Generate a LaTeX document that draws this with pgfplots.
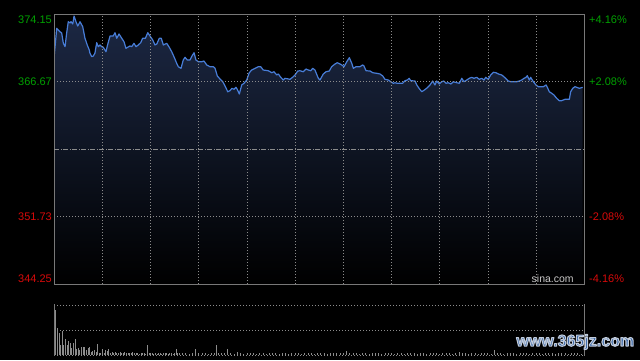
\documentclass[border=0pt]{standalone}
\usepackage{fontspec}
\setmainfont{Liberation Sans}
\usepackage{pgfplots}
\pgfplotsset{compat=1.18}
\usepackage{pgfplotstable}
\definecolor{upg}{RGB}{0,160,0}
\definecolor{dnr}{RGB}{215,10,10}
\definecolor{lineb}{RGB}{72,125,215}
\definecolor{gridc}{RGB}{140,140,140}
\definecolor{framec}{RGB}{120,120,120}
\definecolor{filltop}{RGB}{28,40,68}
\definecolor{volc}{RGB}{140,140,140}
\definecolor{wm}{RGB}{45,95,165}

\pgfplotstableread{
x y
0 369.66
1.5 372.62
3.5 372.24
4.6 372.10
5.6 370.99
6.7 370.58
7.7 372.10
8.7 373.35
9.8 373.21
10.4 373.35
11.5 373.10
12.3 373.98
13.5 373.35
14.6 372.87
16.0 373.35
17.7 372.80
19.1 371.51
20.5 370.77
21.8 370.21
22.2 369.85
23.3 369.47
24.3 369.55
25.3 369.85
26.4 371.02
27.4 370.58
28.5 370.77
29.5 370.58
30.5 370.51
32.2 370.02
33.0 370.66
34.7 371.76
36.7 371.76
37.8 372.13
38.9 371.51
40.3 371.99
42.0 371.51
43.4 371.13
44.6 370.40
47.1 370.66
48.2 370.58
49.6 370.95
50.9 370.58
52.3 370.77
53.8 371.02
55.0 371.51
56.7 371.51
58.2 372.13
59.6 371.76
61.3 371.32
62.7 370.77
63.8 370.88
65.4 371.51
66.6 371.51
67.9 370.77
70.0 370.95
71.6 370.51
73.1 370.02
74.5 369.47
76.2 368.74
77.2 368.36
78.9 368.18
80.3 369.10
81.4 369.40
82.8 369.10
84.5 369.10
85.5 369.47
87.0 369.91
88.2 369.10
89.7 368.91
91.8 368.91
93.2 368.99
94.9 368.55
96.9 368.36
99.0 368.36
100.1 368.18
101.5 367.33
103.2 366.99
104.9 366.69
106.3 366.22
108.0 365.58
109.4 365.70
110.6 365.96
111.9 365.85
113.1 366.07
113.9 365.85
115.2 365.33
116.7 366.33
118.1 366.52
119.8 366.88
121.4 367.69
122.9 367.99
125.0 368.18
127.0 368.36
128.5 368.36
130.1 367.99
133.3 367.91
135.4 367.69
136.8 367.80
138.5 367.44
139.5 367.55
141.0 367.18
142.6 366.88
143.6 367.07
146.8 366.96
148.8 367.25
149.9 367.44
151.6 367.88
153.0 367.91
155.0 367.80
156.7 368.10
158.2 367.99
159.7 367.91
160.9 368.18
162.3 367.99
164.4 367.07
165.4 366.88
167.5 367.55
169.2 367.80
171.2 367.88
172.7 368.36
174.8 368.66
176.2 368.80
177.9 368.66
179.0 368.55
180.4 368.36
182.1 368.91
183.7 369.36
185.2 368.74
186.2 368.18
187.9 368.36
190.3 368.36
192.0 368.55
192.8 368.44
194.1 367.91
196.6 367.88
198.3 367.69
200.7 367.63
202.8 367.55
204.5 367.33
205.9 366.96
208.0 366.88
209.5 366.69
211.1 366.52
212.1 366.58
213.6 366.52
216.9 366.52
218.4 366.81
219.8 366.88
220.9 367.07
221.9 366.81
224.6 366.77
225.7 366.33
227.1 365.96
228.8 365.58
230.4 365.77
232.3 366.03
233.9 366.33
235.6 366.77
237.0 366.33
238.1 366.77
239.7 366.44
241.2 366.69
242.6 366.77
243.9 366.52
245.3 366.58
247.0 366.44
248.4 366.69
250.6 366.58
252.2 366.52
253.7 367.07
255.1 366.69
256.8 366.88
258.4 367.07
259.9 367.18
261.3 367.07
263.0 367.18
264.6 366.96
266.1 367.07
267.6 366.88
268.6 367.18
270.2 366.96
271.7 367.44
273.4 367.74
275.0 367.69
276.5 367.55
278.6 367.44
280.6 367.14
282.7 366.77
284.2 366.69
287.9 366.69
289.5 366.77
291.0 366.88
292.5 367.07
293.7 367.18
294.5 367.36
295.8 366.88
296.6 367.18
298.3 366.69
299.9 366.33
301.4 366.14
304.5 366.14
306.2 366.33
307.0 366.07
308.2 365.58
309.7 365.41
311.1 365.22
312.8 364.85
314.4 364.59
315.9 364.59
318.0 364.74
320.7 364.74
321.5 365.58
322.8 365.96
324.2 366.14
325.3 366.07
326.9 365.96
329.0 366.07
}\price

\pgfplotstableread{
x v
0 50
1 45
2 26.7
3 21.7
4 10
5 24.3
6 10
7 15.7
8 10
9 14.3
10 12.3
11 6.7
12 12.3
13 16
14 5.7
15 6.7
16 5
17 8.3
18 7.7
19 7.7
20 5
21 6.7
22 7.7
23 3.3
24 4.3
25 5
26 3.3
27 10.7
28 2.3
29 1.7
30 5.7
31 1.7
32 5
33 4.3
34 5.7
35 2.3
36 3.3
37 2.3
38 3.3
39 1.7
40 2.3
41 3.3
42 1.7
43 2.3
44 3.3
45 2.3
46 1.7
47 1.7
48 2.3
49 3.3
50 2.3
51 1.7
52 2
53 1.5
54 2.3
55 1.7
56 2
57 1.5
58 10
59 2
60 1.7
61 2.3
62 1.5
63 2
64 1.5
65 2.3
66 1.7
67 1.5
68 2
69 1.7
70 2.3
71 1.5
72 2
73 1.7
74 1.5
75 2.3
76 6
77 2
78 1.7
80 1.7
82 2.3
84 1.5
86 2
88 6
90 2.3
92 1.7
94 2.3
96 1.5
98 2
100 2.3
101 10
102 1.7
104 2.3
106 1.7
108 6
110 2.3
112 1.5
114 3.3
116 2
118 1.5
120 2.3
122 1.7
124 2
126 1.5
128 2.3
130 1.7
132 1.5
134 2.3
136 1.7
138 2
140 1.5
142 2.3
144 1.7
146 1.5
148 2.3
150 2
152 1.7
154 1.5
156 2.3
158 1.7
160 2
162 1.5
164 2.3
166 1.7
168 2
170 1.5
172 2.3
174 1.7
176 2
178 2.3
180 1.7
182 4.3
184 2.3
186 1.7
188 2
190 1.5
192 2.3
194 1.7
196 1.5
198 2
200 1.7
202 2.3
204 1.5
206 2
208 1.7
210 2.3
212 1.5
214 1.7
216 2
218 1.5
220 2.3
222 1.7
224 2
226 1.5
228 2.3
230 1.7
232 1.5
234 2.3
236 2
238 1.7
240 1.5
242 2.3
244 1.7
246 2
248 1.5
250 2.3
252 3.3
254 1.7
256 2
258 1.5
260 2.3
262 1.7
264 1.5
266 2
268 1.7
270 2.3
272 1.5
274 5
276 1.7
278 2
280 1.5
282 2.3
284 1.7
286 2
288 1.5
290 2.3
292 1.7
294 2
296 1.5
298 2.3
300 1.7
302 2
304 1.5
306 2.3
308 1.7
310 2
312 1.5
314 2.3
316 1.7
318 2
320 1.5
322 2.3
324 1.7
326 2
328 1.5
}\vol

\begin{document}
\begin{tikzpicture}[x=1pt,y=1pt]
\fill[black] (0,0) rectangle (640,360);
\begin{axis}[
  at={(54.3pt,76pt)}, anchor=south west, scale only axis,
  width=530pt, height=269.5pt,
  xmin=0, xmax=330, ymin=344.25, ymax=374.15,
  axis on top,
  axis line style={framec, line width=0.9pt},
  xtick={30,60,...,300}, ytick={351.725,366.675},
  xticklabels={}, yticklabels={},
  major tick length=0pt,
  grid=major,
  major grid style={gridc, line width=0.8pt, dash pattern=on 1pt off 2pt},
  extra y ticks={359.2}, extra y tick labels={},
  extra y tick style={grid=major, major grid style={gridc, line width=0.8pt, dash pattern=on 5pt off 1.5pt on 1pt off 1.5pt}},
]
\addplot[draw=none, top color=filltop, bottom color=black] table[x=x,y=y]{\price}
  -- (axis cs:329,344.25) -- (axis cs:0,344.25) -- cycle;
\addplot[lineb, line width=1.2pt, line join=round] table[x=x,y=y]{\price};
\end{axis}

\begin{axis}[
  at={(54.3pt,5pt)}, anchor=south west, scale only axis,
  width=530pt, height=50pt,
  xmin=0, xmax=330, ymin=0, ymax=50,
  axis line style={draw=none}, ticks=none,
]
\addplot[ycomb, volc, line width=1pt] table[x=x,y=v]{\vol};
\end{axis}
\draw[gridc, line width=0.8pt, dash pattern=on 1pt off 2pt] (54.3,55)--(584.3,55);
\draw[gridc, line width=0.8pt, dash pattern=on 1pt off 2pt] (54.3,30)--(584.3,30);
\draw[gridc, line width=0.8pt, dash pattern=on 1pt off 2pt] (54.3,5)--(584.3,5);
\draw[framec, line width=0.9pt] (54.3,4.5)--(54.3,56);
\draw[framec, line width=0.9pt] (584.3,4.5)--(584.3,56);

\begin{scope}[every node/.style={inner sep=0pt, font=\fontsize{11}{13}\selectfont}]
\node[anchor=east, text=upg] at (52,340) {374.15};
\node[anchor=east, text=upg] at (52,278.3) {366.67};
\node[anchor=east, text=dnr] at (52,143.3) {351.73};
\node[anchor=east, text=dnr] at (52,81.7) {344.25};
\node[anchor=west, text=upg] at (589,340) {+4.16\%};
\node[anchor=west, text=upg] at (589,278.3) {+2.08\%};
\node[anchor=west, text=dnr] at (589,143.3) {-2.08\%};
\node[anchor=west, text=dnr] at (589,81.7) {-4.16\%};
\end{scope}
\node[inner sep=0pt, text={rgb,255:red,200;green,200;blue,200}, font=\fontsize{10.5}{12}\selectfont] at (552.7,81) {sina.com};

\node[inner sep=0pt, text=wm, font=\fontsize{16}{18}\bfseries\selectfont] at (575.3,18)
  {\special{pdf:literal direct 0.76 0.8 0.86 RG 1.1 w 1 j 2 Tr}www.365jz.com\special{pdf:literal direct 0 Tr}};
\end{tikzpicture}
\end{document}
